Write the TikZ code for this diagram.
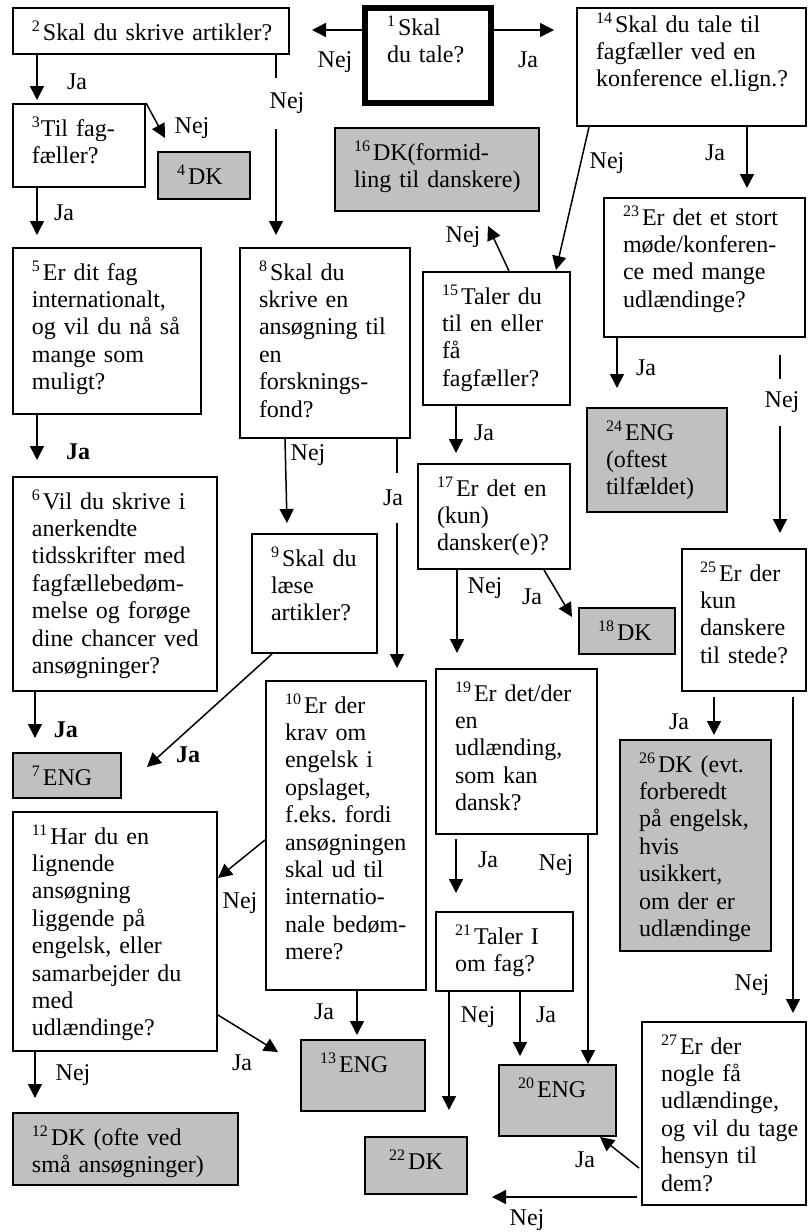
\documentclass[tikz,border=0pt]{standalone}
\usepackage{fontspec}
\setmainfont{Liberation Serif}
\usepackage{tikz}
\usetikzlibrary{arrows.meta,calc}
\definecolor{boxgray}{HTML}{C0C0C0}
\newcommand{\nr}[1]{\textsuperscript{#1}\kern1pt}
\hyphenpenalty=10000
\exhyphenpenalty=10000
\frenchspacing

\begin{document}
\begin{tikzpicture}[x=1pt,y=-1pt,>={Triangle[length=7pt,width=7pt]},line width=0.75pt,font=\fontsize{12}{13.7}\selectfont]
	\tikzstyle{block} = [draw, rectangle, line width=1pt, anchor=north west, align=left, inner xsep=9.5pt, inner ysep=4pt, text height=12pt]
	\tikzstyle{dk} = [block, fill=boxgray]
	\tikzstyle{lbl} = [inner sep=0pt]
	\tikzstyle{gap} = [fill=white, inner xsep=1pt]

	\useasboundingbox (0,0) rectangle (404,616);

	\node [block, line width=3pt, inner xsep=11pt, text width=41pt, text height=9.5pt, text depth=30pt] (b1) at (181,2.5) {\nr{1}Skal\\du tale?};
	\node [block, text width=119pt, text depth=3pt] (b2) at (6,3.5) {\nr{2}Skal~du~skrive~artikler?};
	\node [block, text width=47pt, text depth=21.5pt] (b3) at (6,51.5) {\textsuperscript{3}Til fag-\\fæller?};
	\node [dk, text width=27pt, text depth=3.5pt] (b4) at (78.5,75.5) {\nr{4}DK};
	\node [block, text width=75pt, text depth=63pt] (b5) at (6,123.5) {\nr{5}Er dit fag\\internationalt,\\og vil du nå så\\mange som\\muligt?};
	\node [block, text width=83pt, text depth=87pt] (b6) at (6,238) {\nr{6}Vil du skrive i\\anerkendte\\tidsskrifter med\\fagfællebedøm-\\melse og forøge\\dine~chancer~ved\\ansøgninger?};
	\node [dk, text width=35pt, text depth=2.5pt] (b7) at (6,376) {\nr{7}ENG};
	\node [block, text width=66pt, text depth=75pt] (b8) at (119.5,123.5) {\nr{8}Skal du\\skrive en\\ansøgning til\\en\\forsknings-\\fond?};
	\node [block, text width=43.5pt, text depth=39.5pt] (b9) at (125.5,266.5) {\nr{9}Skal~du\\læse\\artikler?};
	\node [block, text width=61pt, text depth=134.5pt] (b10) at (132.5,340) {\nr{10}Er der\\krav om\\engelsk i\\opslaget,\\f.eks. fordi\\ansøgningen\\skal ud til\\internatio-\\nale bedøm-\\mere?};
	\node [block, text width=83pt, text depth=99.5pt] (b11) at (6,405.5) {\nr{11}Har du en\\lignende\\ansøgning\\liggende på\\engelsk, eller\\samarbejder du\\med\\udlændinge?};
	\node [dk, text width=93.5pt, text depth=16pt] (b12) at (6,556) {\nr{12}DK (ofte ved\\små ansøgninger)};
	\node [dk, text width=43pt, text depth=15.5pt] (b13) at (150,519.5) {\nr{13}ENG};
	\node [block, text width=95.5pt, text height=8pt, text depth=43pt] (b14) at (288,3.5) {\nr{14}Skal du tale til\\fagfæller ved en\\konference~el.lign.?};
	\node [block, text width=54.5pt, text depth=46.5pt] (b15) at (211,135.5) {\nr{15}Taler du\\til en eller\\få\\fagfæller?};
	\node [dk, text width=83pt, text depth=21.5pt] (b16) at (167,63.5) {\nr{16}DK(formid-\\ling~til~danskere)};
	\node [block, text width=57pt, text depth=32.5pt] (b17) at (208.5,231.5) {\nr{17}Er det en\\(kun)\\dansker(e)?};
	\node [dk, text width=29pt, text depth=3pt] (b18) at (289,303.5) {\nr{18}DK};
	\node [block, text width=61.5pt, text depth=62.5pt] (b19) at (217.5,334) {\nr{19}Er det/der\\en\\udlænding,\\som kan\\dansk?};
	\node [dk, text width=39.5pt, text depth=15.5pt] (b20) at (249,532) {\nr{20}ENG};
	\node [block, text width=49.5pt, text depth=19.5pt] (b21) at (217.5,455.5) {\nr{21}Taler I\\om fag?};
	\node [dk, align=center, text width=32pt, text depth=8.5pt] (b22) at (182,568) {\nr{22}DK};
	\node [block, text width=81.5pt, text height=9.5pt, text depth=52pt] (b23) at (301.5,98.5) {\nr{23}Er det et stort\\møde/konferen-\\ce med mange\\udlændinge?};
	\node [dk, text width=51pt, text depth=32pt] (b24) at (293,203.5) {\nr{24}ENG\\(oftest\\tilfældet)};
	\node [block, inner xsep=9pt, text width=44pt, text depth=51pt] (b25) at (340.5,274) {\nr{25}Er der\\kun\\danskere\\til~stede?};
	\node [dk, text width=56.5pt, text depth=85.5pt] (b26) at (309.5,369.5) {\nr{26}DK (evt.\\forberedt\\på~engelsk,\\hvis\\usikkert,\\om der er\\udlændinge};
	\node [block, text width=63pt, text depth=71.5pt] (b27) at (320.5,510.5) {\nr{27}Er der\\nogle få\\udlændinge,\\og~vil~du~tage\\hensyn til\\dem?};

	\draw [->] ($(b1.north west)+(0,12.5)$) -- ($(b2.north east)+(11,11.5)$);
	\draw [->] ($(b1.north east)+(0,12.5)$) -- ($(b14.north west)+(-11,11.5)$);
	\draw [->] ($(b2.south west)+(12.5,0)$) -- ($(b3.north west)+(12.5,-1.5)$);
	\draw [->] ($(b2.south west)+(132,0)$) -- ($(b8.north west)+(18.5,-6)$);
	\draw [->] (b3.north east) -- ($(b4.north west)+(4,-6.5)$);
	\draw [->] ($(b3.south west)+(12.5,0)$) -- ($(b5.north west)+(12.5,-6)$);
	\draw [->] ($(b5.south west)+(12.5,0)$) -- ($(b6.north west)+(12.5,-8)$);
	\draw [->] ($(b8.south west)+(23,0)$) -- ($(b9.north west)+(18,-5)$);
	\draw [->] ($(b8.south west)+(79,0)$) -- ($(b10.north west)+(66,-6)$);
	\draw [->] ($(b6.south west)+(11.5,0)$) -- ($(b7.north west)+(11.5,-7)$);
	\draw [->] ($(b9.south west)+(10.5,0)$) -- ($(b7.north east)+(12.5,7.5)$);
	\draw [->] ($(b10.north west)+(0,80)$) -- ($(b11.north east)+(0,33.5)$);
	\draw [->] ($(b11.north east)+(0,102)$) -- ($(b13.north west)+(-11,6.5)$);
	\draw [->] ($(b11.south west)+(11.5,0)$) -- ($(b12.north west)+(11.5,-7)$);
	\draw [->] ($(b10.south west)+(46,0)$) -- ($(b13.north west)+(28.5,-2)$);
	\draw [->] ($(b14.south west)+(6.5,0)$) -- ($(b15.north east)+(-7.5,-0.5)$);
	\draw [->] ($(b15.north west)+(43.5,0)$) -- ($(b16.south east)+(-26,7)$);
	\draw [->] ($(b14.south west)+(85.5,0)$) -- ($(b23.north west)+(72,-4.5)$);
	\draw [->] ($(b23.south west)+(7,0)$) -- ($(b24.north west)+(15.5,-9.5)$);
	\draw [->] ($(b23.south west)+(88.5,8.5)$) -- ($(b25.north west)+(49.5,-7.5)$);
	\draw [->] ($(b15.south west)+(17,0)$) -- ($(b17.north west)+(19.5,-5)$);
	\draw [->] ($(b17.south east)+(-13.5,0)$) -- ($(b18.north west)+(-3,5)$);
	\draw [->] ($(b17.south west)+(20,0)$) -- ($(b19.north west)+(11,-7.5)$);
	\draw [->] ($(b25.south west)+(16.5,2.5)$) -- ($(b26.north west)+(47.5,-2)$);
	\draw [->] ($(b25.south west)+(56,2.5)$) -- ($(b27.north west)+(76,-4)$);
	\draw [->] ($(b19.south west)+(10.5,2)$) -- ($(b21.north west)+(10.5,-9)$);
	\draw [->] ($(b19.south west)+(76.5,0)$) -- ($(b20.north west)+(45,0)$);
	\draw [->] ($(b21.south west)+(7,0)$) -- ($(b22.north west)+(42.5,-13)$);
	\draw [->] ($(b21.south west)+(42.5,0)$) -- ($(b20.north west)+(11,-4)$);
	\draw [->] ($(b27.north west)+(-1,73.5)$) -- ($(b20.south east)+(-8.5,0)$);
	\draw [->] ($(b27.north west)+(-2,88)$) -- ($(b22.north east)+(12,30.5)$);

	\node [lbl] (n1) at (167.5,31) {Nej};
	\node [lbl] (n2) at (264,30) {Ja};
	\node [lbl] (n3) at (38.5,41) {Ja};
	\node [lbl, gap, inner ysep=7.5pt] (n4) at (143.5,51.5) {Nej};
	\node [lbl] (n5) at (96,64) {Nej};
	\node [lbl] (n6) at (32,106.5) {Ja};
	\node [lbl] (n7) at (39,226) {\textbf{Ja}};
	\node [lbl] (n8) at (154,227.5) {Nej};
	\node [lbl, gap, inner ysep=8.5pt] (n9) at (196.5,249) {Ja};
	\node [lbl] (n10) at (33,365) {\textbf{Ja}};
	\node [lbl] (n11) at (94,377.5) {\textbf{Ja}};
	\node [lbl] (n12) at (120,451.5) {Nej};
	\node [lbl] (n13) at (121,531.5) {Ja};
	\node [lbl] (n14) at (36.5,537.5) {Nej};
	\node [lbl] (n15) at (162,506) {Ja};
	\node [lbl] (n16) at (303.5,81.5) {Nej};
	\node [lbl] (n17) at (231.5,118.5) {Nej};
	\node [lbl] (n18) at (357.5,76.5) {Ja};
	\node [lbl] (n19) at (323,184) {Ja};
	\node [lbl, gap, inner ysep=6.5pt] (n20) at (391,201) {Nej};
	\node [lbl] (n21) at (242,216.5) {Ja};
	\node [lbl] (n22) at (242.5,294) {Nej};
	\node [lbl] (n23) at (266,298.5) {Ja};
	\node [lbl] (n24) at (339.5,361) {Ja};
	\node [lbl] (n25) at (376,492.5) {Nej};
	\node [lbl] (n26) at (244,430) {Ja};
	\node [lbl] (n27) at (278,432.5) {Nej};
	\node [lbl] (n28) at (239,508.5) {Nej};
	\node [lbl] (n29) at (273,507.5) {Ja};
	\node [lbl] (n30) at (292.5,580) {Ja};
	\node [lbl] (n31) at (263.5,610) {Nej};
\end{tikzpicture}
\end{document}
